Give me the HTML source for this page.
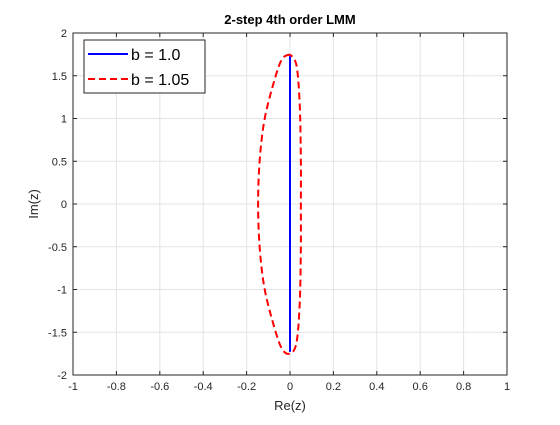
<!DOCTYPE html>
<html><head><meta charset="utf-8"><style>
body{margin:0;background:#fff;font-family:"Liberation Sans",sans-serif}
svg text{font-family:"Liberation Sans",sans-serif}
</style></head><body>
<svg id="c" width="560" height="420" xmlns="http://www.w3.org/2000/svg">
<rect width="560" height="420" fill="#fff"/>
</svg>
<script>
const xTicks=[-1,-0.8,-0.6,-0.4,-0.2,0,0.2,0.4,0.6,0.8,1];
const yTicks=[-2,-1.5,-1,-0.5,0,0.5,1,1.5,2];
const blueRe=[0,0];
const blueIm=[-1.73,1.73];
const redRe=[0,-0.04,-0.085,-0.12,-0.14,-0.147,-0.14,-0.12,-0.085,-0.04,0,0.03,0.045,0.05,0.05,0.05,0.045,0.03,0];
const redIm=[1.75,1.68,1.33,0.95,0.5,0,-0.5,-0.95,-1.33,-1.68,-1.75,-1.62,-1.15,-0.5,0,0.5,1.15,1.62,1.75];
const L=73,R=507,T=33,B=375;
const sx=v=>L+(v+1)/2*(R-L);
const sy=v=>B-(v+2)/4*(B-T);
const svg=document.getElementById('c');
const NS='http://www.w3.org/2000/svg';
function mk(t,a,txt){const e=document.createElementNS(NS,t);for(const k in a)e.setAttribute(k,a[k]);if(txt!==undefined)e.textContent=txt;svg.appendChild(e);return e;}
mk('rect',{x:L,y:T,width:R-L,height:B-T,fill:'#fff'});
xTicks.forEach(v=>{
 const g=mk('line',{x1:sx(v),x2:sx(v),y1:T,y2:B,stroke:'#e3e3e3','stroke-width':1});
 
 
 mk('line',{x1:sx(v),x2:sx(v),y1:B,y2:B-4,stroke:'#262626'});
 mk('line',{x1:sx(v),x2:sx(v),y1:T,y2:T+4,stroke:'#262626'});
 const t=mk('text',{x:sx(v),y:B+15,'text-anchor':'middle','font-size':11,fill:'#262626'},String(v));
 
 
});
yTicks.forEach(v=>{
 const g=mk('line',{x1:L,x2:R,y1:sy(v),y2:sy(v),stroke:'#e3e3e3','stroke-width':1});
 
 
 mk('line',{x1:L,x2:L+4,y1:sy(v),y2:sy(v),stroke:'#262626'});
 mk('line',{x1:R,x2:R-4,y1:sy(v),y2:sy(v),stroke:'#262626'});
 const t=mk('text',{x:L-6,y:sy(v)+4,'text-anchor':'end','font-size':11,fill:'#262626'},String(v));
 
 
});
const ax=mk('rect',{x:L,y:T,width:R-L,height:B-T,fill:'none',stroke:'#262626','stroke-width':1});


// blue line
const bl=mk('polyline',{points:blueRe.map((r,i)=>sx(r)+','+sy(blueIm[i])).join(' '),fill:'none',stroke:'#0000ff','stroke-width':2});


// red curve catmull-rom
const pts=redRe.map((r,i)=>[sx(r),sy(redIm[i])]);
let d='M'+pts[0][0]+','+pts[0][1];
for(let i=0;i<pts.length-1;i++){
 const p0=pts[Math.max(i-1,0)],p1=pts[i],p2=pts[i+1],p3=pts[Math.min(i+2,pts.length-1)];
 const c1=[p1[0]+(p2[0]-p0[0])/6,p1[1]+(p2[1]-p0[1])/6];
 const c2=[p2[0]-(p3[0]-p1[0])/6,p2[1]-(p3[1]-p1[1])/6];
 d+=` C${c1[0]},${c1[1]} ${c2[0]},${c2[1]} ${p2[0]},${p2[1]}`;
}
const rl=mk('path',{d:d,fill:'none',stroke:'#ff0000','stroke-width':2,'stroke-dasharray':'7,4'});


// title & labels
const ti=mk('text',{x:290,y:24,'text-anchor':'middle','font-size':13,'font-weight':'bold',fill:'#000'},'2-step 4th order LMM');


const xl=mk('text',{x:290,y:410,'text-anchor':'middle','font-size':13,fill:'#262626'},'Re(z)');


const yl=mk('text',{x:0,y:0,'text-anchor':'middle','font-size':13,fill:'#262626',transform:'translate(38,204) rotate(-90)'},'Im(z)');


// legend
const lg=mk('rect',{x:84,y:40,width:121,height:53,fill:'#fff',stroke:'#262626','stroke-width':1});


mk('line',{x1:88,x2:128,y1:54,y2:54,stroke:'#0000ff','stroke-width':2});
const l1=mk('text',{x:131,y:60,'font-size':16,fill:'#000'},'b = 1.0');


mk('line',{x1:88,x2:128,y1:79,y2:79,stroke:'#ff0000','stroke-width':2,'stroke-dasharray':'7,4'});
const l2=mk('text',{x:131,y:85,'font-size':16,fill:'#000'},'b = 1.05');


</script>
</body></html>
